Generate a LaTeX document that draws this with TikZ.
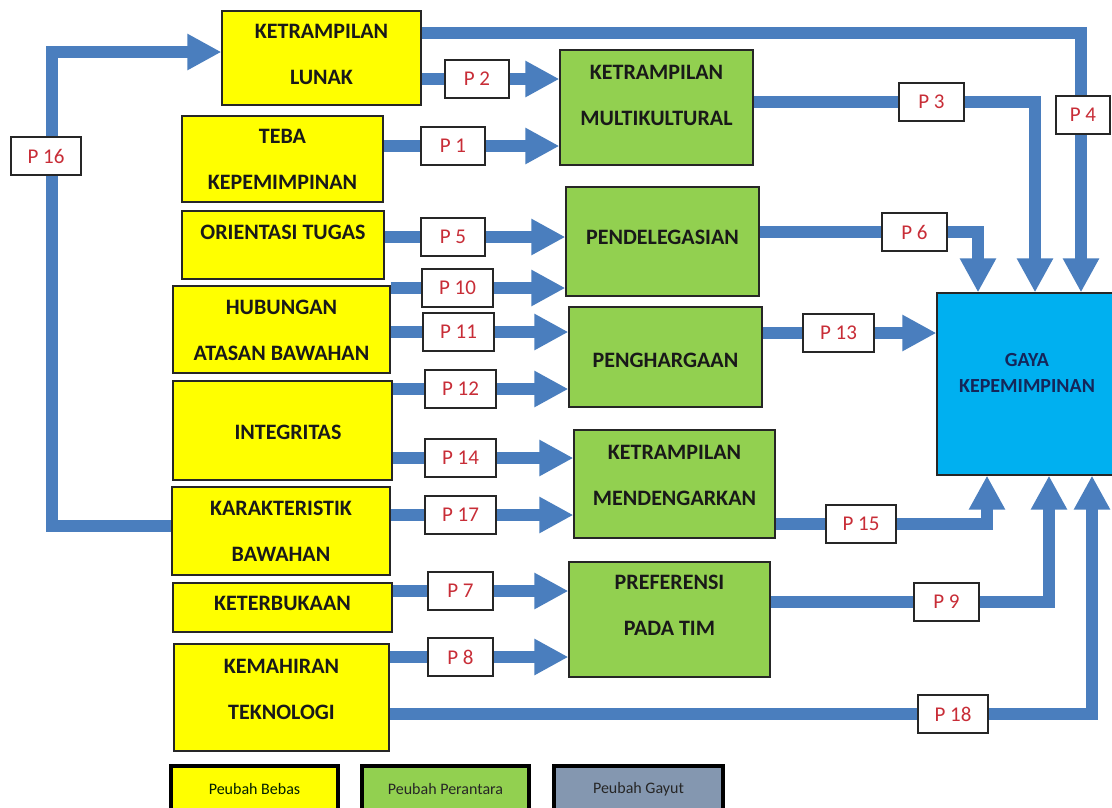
\documentclass[tikz,border=0pt]{standalone}
\usepackage{fontspec}
\setmainfont{Carlito}
\usetikzlibrary{arrows.meta}
\pgfdeclarelayer{bg}
\pgfsetlayers{bg,main}
\definecolor{ayellow}{HTML}{FFFF00}
\definecolor{agreen}{HTML}{92D050}
\definecolor{ablue}{RGB}{74,126,190}
\definecolor{gblue}{HTML}{00B0F0}
\definecolor{lgray}{HTML}{8497B0}
\definecolor{pred}{RGB}{200,45,55}
\definecolor{navy}{RGB}{20,38,90}
\tikzset{
  vbox/.style={draw=black!85, line width=1.2pt, inner sep=0pt},
  ybox/.style={vbox, fill=ayellow},
  gbox/.style={vbox, fill=agreen},
  btxt/.style={font=\bfseries\fontsize{22}{46}\selectfont, align=center, inner sep=0pt, text=black!90},
  plab/.style={draw=black!85, fill=white, line width=1.2pt, minimum height=38pt, minimum width=66pt, inner sep=0pt, text=pred, font=\fontsize{21}{24}\selectfont},
  conn/.style={draw=ablue, line width=12pt},
  arr/.style={conn, -{Triangle[width=34pt,length=34pt]}},
  legbox/.style={draw=black, line width=4.5pt, inner sep=0pt, font=\fontsize{16}{18}\selectfont, minimum height=46pt},
}
\begin{document}
\begin{tikzpicture}[x=1pt,y=-1pt]
\useasboundingbox (0,0) rectangle (1112,807);
% yellow boxes
\node[ybox, minimum width=199pt, minimum height=94pt] (lunak) at (321.5,58) {};
\node[ybox, minimum width=201pt, minimum height=86pt] (teba) at (282.5,159) {};
\node[ybox, minimum width=202pt, minimum height=68pt] (orient) at (283,245) {};
\node[ybox, minimum width=217pt, minimum height=87pt] (hub) at (281.5,329.5) {};
\node[ybox, minimum width=219pt, minimum height=99pt] (integ) at (282.5,430.5) {};
\node[ybox, minimum width=218pt, minimum height=88pt] (karak) at (281,531) {};
\node[ybox, minimum width=219pt, minimum height=49pt] (keter) at (282.5,607.5) {};
\node[ybox, minimum width=215pt, minimum height=107pt] (kemah) at (281.5,697.5) {};
% green boxes
\node[gbox, minimum width=193pt, minimum height=115pt] (multi) at (656.5,107.5) {};
\node[gbox, minimum width=193pt, minimum height=109pt] (pendel) at (662.5,241.5) {};
\node[gbox, minimum width=193pt, minimum height=100pt] (pengh) at (665.5,357) {};
\node[gbox, minimum width=201pt, minimum height=108pt] (mend) at (674.5,484) {};
\node[gbox, minimum width=201pt, minimum height=115pt] (pref) at (669.5,619.5) {};
% blue box
\node[vbox, fill=gblue, minimum width=181pt, minimum height=182pt] (gaya) at (1027.5,384) {};
% texts
\node[btxt] (tlunak) at (321.5,54) {KETRAMPILAN\\LUNAK};
\node[btxt] (tteba) at (282.5,159.5) {TEBA\\KEPEMIMPINAN};
\node[btxt] (torient) at (283,232) {ORIENTASI TUGAS};
\node[btxt] (thub) at (281.5,330) {HUBUNGAN\\ATASAN BAWAHAN};
\node[btxt] (tinteg) at (288,432) {INTEGRITAS};
\node[btxt] (tkarak) at (281,531) {KARAKTERISTIK\\BAWAHAN};
\node[btxt] (tketer) at (282.5,603) {KETERBUKAAN};
\node[btxt] (tkemah) at (281.5,689) {KEMAHIRAN\\TEKNOLOGI};
\node[btxt] (tmulti) at (656.5,95) {KETRAMPILAN\\MULTIKULTURAL};
\node[btxt] (tpendel) at (662.5,237) {PENDELEGASIAN};
\node[btxt] (tpengh) at (665.5,360) {PENGHARGAAN};
\node[btxt] (tmend) at (674.5,475) {KETRAMPILAN\\MENDENGARKAN};
\node[btxt] (tpref) at (669.5,605) {PREFERENSI\\PADA TIM};
\node[btxt, text=navy, font=\bfseries\fontsize{20}{26}\selectfont] (tgaya) at (1027,373) {GAYA\\KEPEMIMPINAN};
% legend
\node[legbox, fill=ayellow, minimum width=167pt, text=black!80!green!60!black] (lbebas) at (254.5,789) {Peubah Bebas};
\node[legbox, fill=agreen, minimum width=167pt, text=black!85] (lperan) at (445.5,789) {Peubah Perantara};
\node[legbox, fill=lgray, minimum width=169pt, text=black!85] (lgayut) at (638.5,789) {Peubah Gayut};
% labels
\node[plab, minimum width=64pt] (p2) at (477,79) {P 2};
\node[plab, minimum width=64pt] (p1) at (453,146) {P 1};
\node[plab, minimum width=64pt] (p5) at (453,237) {P 5};
\node[plab, minimum width=71pt] (p10) at (457.5,288) {P 10};
\node[plab, minimum width=71pt] (p11) at (458.5,332) {P 11};
\node[plab, minimum width=71pt] (p12) at (460.5,389) {P 12};
\node[plab, minimum width=71pt] (p14) at (460.5,458) {P 14};
\node[plab, minimum width=71pt] (p17) at (460.5,515) {P 17};
\node[plab, minimum width=65pt] (p7) at (460.5,591) {P 7};
\node[plab, minimum width=65pt] (p8) at (460.5,657) {P 8};
\node[plab, minimum width=71pt] (p13) at (838.5,333) {P 13};
\node[plab, minimum width=65pt] (p3) at (931.5,102) {P 3};
\node[plab, minimum width=54pt] (p4) at (1083,115) {P 4};
\node[plab, minimum width=65pt] (p6) at (914.5,232) {P 6};
\node[plab, minimum width=70pt] (p15) at (861,524) {P 15};
\node[plab, minimum width=65pt] (p9) at (946.5,602) {P 9};
\node[plab, minimum width=70pt] (p18) at (953,714) {P 18};
\node[plab, minimum width=70pt] (p16) at (46,156) {P 16};
% helper coordinates
\coordinate (x3) at (1035,0);
\coordinate (x4) at (1081,0);
\coordinate (y4) at (0,33);
\coordinate (x6) at (978,0);
\coordinate (x15) at (987,0);
\coordinate (x9) at (1049,0);
\coordinate (x18) at (1092,0);
\coordinate (x16) at (52,0);
\coordinate (y16) at (0,526);
\coordinate (ytop) at (0,52);
\begin{pgfonlayer}{bg}
\fill[white] (0,0) rectangle (1112,807);
\draw[arr] (lunak.east |- p2) -- (multi.west |- p2);
\draw[arr] (teba.east |- p1) -- (multi.west |- p1);
\draw[arr] (orient.east |- p5) -- (pendel.west |- p5);
\draw[arr] (hub.east |- p10) -- (pendel.west |- p10);
\draw[arr] (hub.east |- p11) -- (pengh.west |- p11);
\draw[arr] (integ.east |- p12) -- (pengh.west |- p12);
\draw[arr] (integ.east |- p14) -- (mend.west |- p14);
\draw[arr] (karak.east |- p17) -- (mend.west |- p17);
\draw[arr] (keter.east |- p7) -- (pref.west |- p7);
\draw[arr] (kemah.east |- p8) -- (pref.west |- p8);
\draw[arr] (pengh.east |- p13) -- (gaya.west |- p13);
\draw[arr] (multi.east |- p3) -- (x3 |- p3) -- (x3 |- gaya.north);
\draw[arr] (lunak.east |- y4) -- (x4 |- y4) -- (x4 |- gaya.north);
\draw[arr] (pendel.east |- p6) -- (x6 |- p6) -- (x6 |- gaya.north);
\draw[arr] (mend.east |- p15) -- (x15 |- p15) -- (x15 |- gaya.south);
\draw[arr] (pref.east |- p9) -- (x9 |- p9) -- (x9 |- gaya.south);
\draw[arr] (kemah.east |- p18) -- (x18 |- p18) -- (x18 |- gaya.south);
\draw[arr] (karak.west |- y16) -- (x16 |- y16) -- (x16 |- ytop) -- (lunak.west |- ytop);
\end{pgfonlayer}
\end{tikzpicture}
\end{document}
